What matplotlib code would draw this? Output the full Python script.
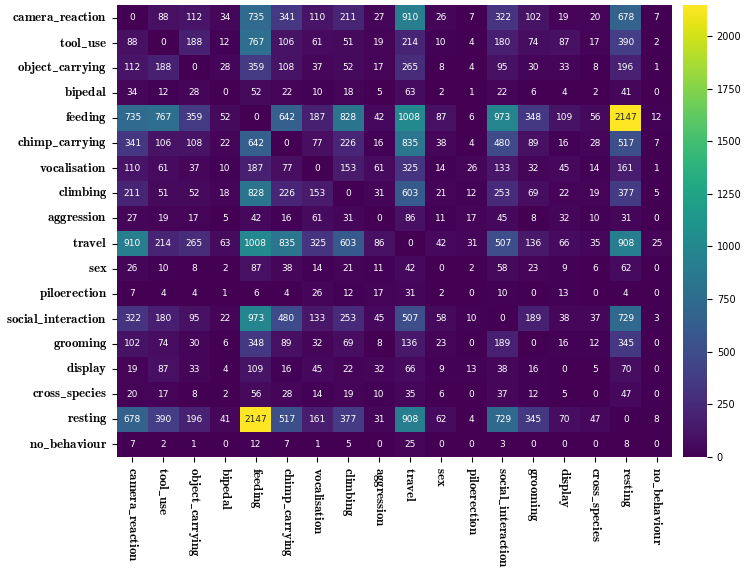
import numpy as np
import matplotlib
matplotlib.use("Agg")
import matplotlib.pyplot as plt
import seaborn as sns

labels = ["camera_reaction", "tool_use", "object_carrying", "bipedal", "feeding",
          "chimp_carrying", "vocalisation", "climbing", "aggression", "travel", "sex",
          "piloerection", "social_interaction", "grooming", "display", "cross_species",
          "resting", "no_behaviour"]

r_camera_reaction = [0, 88, 112, 34, 735, 341, 110, 211, 27, 910, 26, 7, 322, 102, 19, 20, 678, 7]
r_tool_use = [88, 0, 188, 12, 767, 106, 61, 51, 19, 214, 10, 4, 180, 74, 87, 17, 390, 2]
r_object_carrying = [112, 188, 0, 28, 359, 108, 37, 52, 17, 265, 8, 4, 95, 30, 33, 8, 196, 1]
r_bipedal = [34, 12, 28, 0, 52, 22, 10, 18, 5, 63, 2, 1, 22, 6, 4, 2, 41, 0]
r_feeding = [735, 767, 359, 52, 0, 642, 187, 828, 42, 1008, 87, 6, 973, 348, 109, 56, 2147, 12]
r_chimp_carrying = [341, 106, 108, 22, 642, 0, 77, 226, 16, 835, 38, 4, 480, 89, 16, 28, 517, 7]
r_vocalisation = [110, 61, 37, 10, 187, 77, 0, 153, 61, 325, 14, 26, 133, 32, 45, 14, 161, 1]
r_climbing = [211, 51, 52, 18, 828, 226, 153, 0, 31, 603, 21, 12, 253, 69, 22, 19, 377, 5]
r_aggression = [27, 19, 17, 5, 42, 16, 61, 31, 0, 86, 11, 17, 45, 8, 32, 10, 31, 0]
r_travel = [910, 214, 265, 63, 1008, 835, 325, 603, 86, 0, 42, 31, 507, 136, 66, 35, 908, 25]
r_sex = [26, 10, 8, 2, 87, 38, 14, 21, 11, 42, 0, 2, 58, 23, 9, 6, 62, 0]
r_piloerection = [7, 4, 4, 1, 6, 4, 26, 12, 17, 31, 2, 0, 10, 0, 13, 0, 4, 0]
r_social_interaction = [322, 180, 95, 22, 973, 480, 133, 253, 45, 507, 58, 10, 0, 189, 38, 37, 729, 3]
r_grooming = [102, 74, 30, 6, 348, 89, 32, 69, 8, 136, 23, 0, 189, 0, 16, 12, 345, 0]
r_display = [19, 87, 33, 4, 109, 16, 45, 22, 32, 66, 9, 13, 38, 16, 0, 5, 70, 0]
r_cross_species = [20, 17, 8, 2, 56, 28, 14, 19, 10, 35, 6, 0, 37, 12, 5, 0, 47, 0]
r_resting = [678, 390, 196, 41, 2147, 517, 161, 377, 31, 908, 62, 4, 729, 345, 70, 47, 0, 8]
r_no_behaviour = [7, 2, 1, 0, 12, 7, 1, 5, 0, 25, 0, 0, 3, 0, 0, 0, 8, 0]

matrix = np.array([r_camera_reaction, r_tool_use, r_object_carrying, r_bipedal, r_feeding,
                   r_chimp_carrying, r_vocalisation, r_climbing, r_aggression, r_travel, r_sex,
                   r_piloerection, r_social_interaction, r_grooming, r_display, r_cross_species,
                   r_resting, r_no_behaviour])

plt.rcParams['mathtext.fontset'] = 'cm'

fig = plt.figure(figsize=(7.47, 5.74), dpi=100)
ax = fig.add_axes([117/747, 1 - 457/574, (672-117)/747, (457-5)/574])
cax = fig.add_axes([683/747, 1 - 457/574, (707-683)/747, (457-5)/574])

sns.heatmap(matrix, ax=ax, cbar_ax=cax, cmap="viridis", annot=True, fmt="d",
            annot_kws={"fontsize": 6.5}, vmin=0, vmax=matrix.max())

def tex(s):
    return r"$\mathbf{" + s.replace("_", r"\_") + "}$"

ax.set_xticks(np.arange(len(labels)) + 0.5)
ax.set_yticks(np.arange(len(labels)) + 0.5)
ax.set_xticklabels([tex(l) for l in labels], rotation=-90, fontsize=9.3)
ax.set_yticklabels([tex(l) for l in labels], rotation=0, fontsize=9.3)
cax.tick_params(labelsize=7)

fig.savefig("out.png", dpi=100)
